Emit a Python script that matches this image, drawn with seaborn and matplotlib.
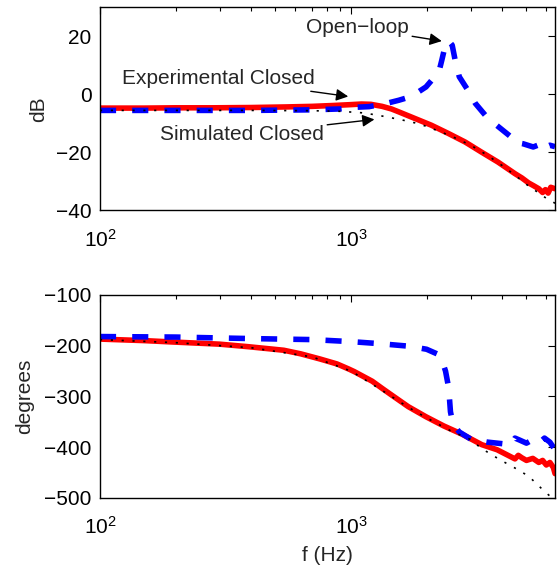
import matplotlib
matplotlib.use('Agg')
import matplotlib.pyplot as plt
import seaborn as sns

# magnitude (dB)
f_exp_mag = [100, 150, 200, 280, 400, 550, 700, 850, 1000, 1100, 1200, 1330, 1450, 1550, 1800,
             2090, 2450, 2850, 3300, 3850, 4500, 4800, 5100, 5350, 5600, 5800, 5950, 6100, 6250, 6500]
exp_mag = [-4.7, -4.7, -4.6, -4.6, -4.5, -4.3, -4.1, -3.8, -3.5, -3.3, -3.4, -4.1, -5.0, -6.0, -8.3,
           -10.6, -13.5, -16.4, -19.8, -23.3, -27.3, -28.8, -30.5, -31.5, -32.5, -33.8, -32.8, -34.0, -32.0, -32.5]

f_ol_mag = [100, 200, 400, 700, 900, 1050, 1180, 1380, 1550, 1740, 1990, 2240, 2300, 2376, 2450,
            2530, 2600, 2700, 2950, 3130, 3430, 3800, 4350, 4450, 4850, 5320, 5550, 5800, 6000, 6200, 6500]
ol_mag = [-5.5, -5.5, -5.5, -5.3, -5.0, -4.4, -4.2, -3.1, -2.0, -0.7, 2.6, 7.8, 11.8, 17.0, 18.5,
          17.0, 11.8, 6.1, 0.9, -3.1, -7.2, -10.6, -14.7, -16.4, -17.0, -18.1, -17.5, -19.3, -18.0, -17.5, -18.0]

f_sim_mag = [100, 200, 400, 700, 900, 1100, 1250, 1400, 1600, 1800, 2000, 2500, 3000, 3500,
             4000, 4500, 5000, 5500, 6000, 6500]
sim_mag = [-5.5, -5.5, -5.5, -5.6, -5.8, -6.3, -7.0, -7.8, -8.8, -9.8, -11.0, -14.3, -17.5, -21.0,
           -24.5, -27.8, -31.0, -33.5, -35.8, -37.5]

# phase (degrees)
f_exp_ph = [100, 150, 200, 300, 390, 540, 630, 750, 880, 980, 1030, 1215, 1330, 1430, 1690, 1990,
            2340, 2760, 3320, 3820, 4300, 4500, 4640, 4800, 5000, 5300, 5600, 5800, 6000, 6200, 6400, 6500]
exp_ph = [-187, -190, -193, -197, -202, -209, -216, -226, -236, -246, -251, -270, -284, -295, -320, -340,
          -358, -374, -395, -405, -418, -423, -416, -421, -426, -422, -430, -426, -435, -430, -440, -452]

f_ol_ph = [100, 200, 400, 700, 1000, 1300, 1700, 2000, 2200, 2300, 2380, 2450, 2490, 2550, 2700,
           3000, 3500, 4000, 4350, 4500, 4700, 5000, 5300, 5600, 5900, 6200, 6500]
ol_ph = [-182, -183, -186, -188, -192, -196, -201, -207, -216, -228, -250, -283, -330, -355, -370,
         -384, -390, -393, -395, -382, -386, -392, -385, -392, -382, -390, -405]

f_sim_ph = [100, 200, 400, 700, 1000, 1300, 1700, 2000, 2500, 3000, 3300, 3900, 4500, 5100, 5900, 6500]
sim_ph = [-188, -194, -204, -222, -250, -285, -322, -342, -368, -385, -402, -424, -441, -457, -487, -505]

sns.set_style('white')
plt.rcParams['font.family'] = ['Liberation Sans', 'DejaVu Sans']
plt.rcParams['mathtext.fontset'] = 'custom'
plt.rcParams['mathtext.rm'] = 'Liberation Sans'
plt.rcParams['axes.edgecolor'] = 'black'
plt.rcParams['axes.linewidth'] = 1.0

fig = plt.figure(figsize=(5.57, 5.72), dpi=100)
ax1 = fig.add_axes([0.1795, 0.632, 0.817, 0.355])
ax2 = fig.add_axes([0.1795, 0.1294, 0.817, 0.355])


def draw(ax, fe, ye, fo, yo, fs, ys):
    sns.lineplot(x=fe, y=ye, ax=ax, color='#ff0000', linewidth=4, estimator=None)
    sns.lineplot(x=fo, y=yo, ax=ax, color='#0000ff', linewidth=4, estimator=None,
                 linestyle=(0, (2.9, 2.9)))
    sns.lineplot(x=fs, y=ys, ax=ax, color='black', linewidth=1.2, estimator=None,
                 linestyle=(0, (1.3, 5.2)))
    ax.set_xscale('log')
    ax.set_xlim(100, 6500)
    ax.tick_params(direction='in', which='both', top=True, right=True, labelsize=15,
                   colors='black')
    ax.tick_params(axis='x', which='major', pad=13)
    ax.tick_params(axis='y', which='major', pad=6)
    ax.tick_params(which='major', length=5, width=0.8)
    ax.tick_params(which='minor', length=3, width=0.8)
    for s in ax.spines.values():
        s.set_visible(True)


draw(ax1, f_exp_mag, exp_mag, f_ol_mag, ol_mag, f_sim_mag, sim_mag)
ax1.set_ylim(-40, 30)
ax1.set_yticks([-40, -20, 0, 20])
ax1.set_ylabel('dB', fontsize=15, labelpad=6)

draw(ax2, f_exp_ph, exp_ph, f_ol_ph, ol_ph, f_sim_ph, sim_ph)
ax2.set_ylim(-500, -100)
ax2.set_yticks([-500, -400, -300, -200, -100])
ax2.set_ylabel('degrees', fontsize=15, labelpad=7)
ax2.set_xlabel('f (Hz)', fontsize=15, labelpad=6)

arrow = dict(arrowstyle='-|>', color='black', lw=1, mutation_scale=18, shrinkA=0, shrinkB=0)
ax1.annotate('Experimental Closed', xy=(975, -0.7), xytext=(720, 5.5), fontsize=15,
             ha='right', va='center', arrowprops=arrow)
ax1.annotate('Simulated Closed', xy=(1240, -8.6), xytext=(780, -13.8), fontsize=15,
             ha='right', va='center', arrowprops=arrow)
ax1.annotate('Open\u2212loop', xy=(2300, 18.4), xytext=(1700, 23.1), fontsize=15,
             ha='right', va='center', arrowprops=arrow)

fig.savefig('out.png', dpi=100)
